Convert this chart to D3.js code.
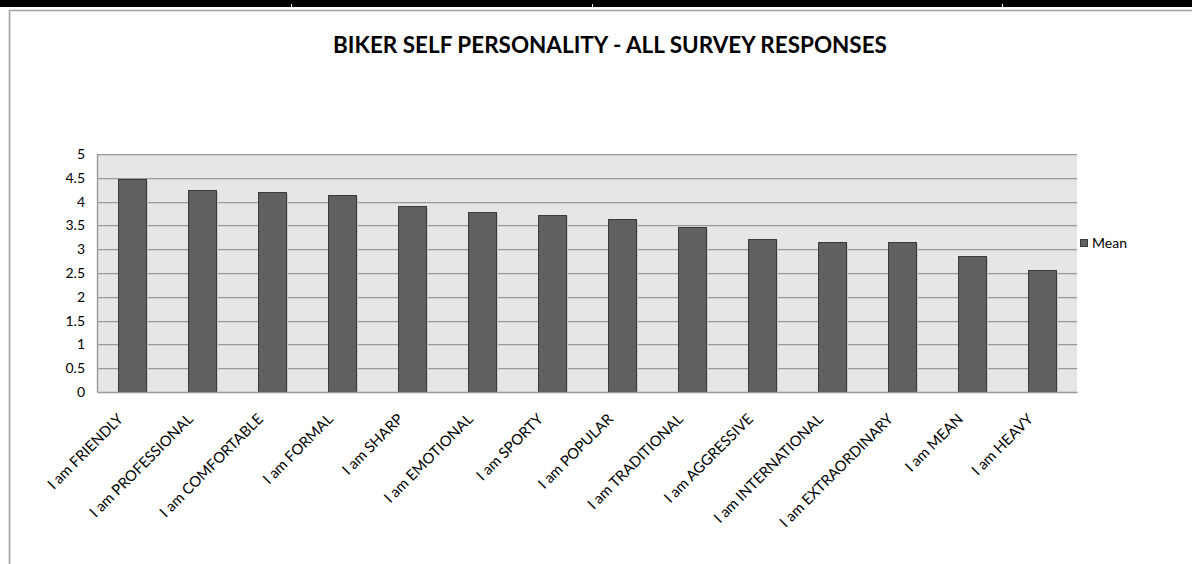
<!DOCTYPE html>
<html>
<head>
<meta charset="utf-8">
<script src="https://cdn.jsdelivr.net/npm/d3@7"></script>
<style>
  html, body { margin: 0; padding: 0; background: #ffffff; }
  svg { display: block; }
  text { font-family: Lato, "Open Sans", "Liberation Sans", sans-serif; fill: #000; }
</style>
</head>
<body>
<svg id="chart" width="1192" height="564"></svg>
<script>
// Mean self-rating per personality statement
const categories = [
  "I am FRIENDLY", "I am PROFESSIONAL", "I am COMFORTABLE", "I am FORMAL",
  "I am SHARP", "I am EMOTIONAL", "I am SPORTY", "I am POPULAR",
  "I am TRADITIONAL", "I am AGGRESSIVE", "I am INTERNATIONAL",
  "I am EXTRAORDINARY", "I am MEAN", "I am HEAVY"
];
const meanValues = [4.47, 4.24, 4.20, 4.14, 3.91, 3.78, 3.72, 3.63, 3.46, 3.21, 3.15, 3.15, 2.85, 2.56];
const yTicks = [0, 0.5, 1, 1.5, 2, 2.5, 3, 3.5, 4, 4.5, 5];
const seriesName = "Mean";
const chartTitle = "BIKER SELF PERSONALITY - ALL SURVEY RESPONSES";

const svg = d3.select("#chart");
const W = 1192, H = 564;
const plot = { left: 97, right: 1077, top: 154, bottom: 392 };

// Sheet strip above the chart object
svg.append("rect").attr("x", 0).attr("y", 0).attr("width", W).attr("height", 7).attr("fill", "#000");
[291, 592, 1002].forEach(x => {
  svg.append("rect").attr("x", x).attr("y", 4).attr("width", 1).attr("height", 3).attr("fill", "#fff");
});

// Chart area frame (continues past the bottom and right edge)
svg.append("path")
  .attr("d", `M9.5,${H + 5} V10.5 H${W + 5}`)
  .attr("fill", "none").attr("stroke", "#a0a0a0").attr("stroke-width", 1.6);

// Title
const title = svg.append("text")
  .attr("x", 610).attr("y", 53)
  .attr("text-anchor", "middle")
  .attr("font-weight", "bold")
  .attr("font-size", 18)
  .text(chartTitle);
{
  const len = title.node().getComputedTextLength();
  title.attr("font-size", 18 * 554 / len);
}

// Scales
const x = d3.scaleBand().domain(categories).range([plot.left, plot.right]).paddingInner(0.6).paddingOuter(0.3);
const y = d3.scaleLinear().domain([0, 5]).range([plot.bottom, plot.top]);

// Plot background
svg.append("rect")
  .attr("x", plot.left).attr("y", plot.top)
  .attr("width", plot.right - plot.left).attr("height", plot.bottom - plot.top)
  .attr("fill", "#e6e6e6");

// Gridlines with a faint shadow underneath
const grid = svg.append("g");
grid.selectAll("line.shadow").data(yTicks.filter(t => t > 0)).join("line")
  .attr("class", "shadow")
  .attr("x1", plot.left).attr("x2", plot.right)
  .attr("y1", d => Math.round(y(d)) + 1.5).attr("y2", d => Math.round(y(d)) + 1.5)
  .attr("stroke", "#d2d2d2").attr("stroke-width", 1);
grid.selectAll("line.major").data(yTicks.filter(t => t > 0)).join("line")
  .attr("class", "major")
  .attr("x1", plot.left).attr("x2", plot.right)
  .attr("y1", d => Math.round(y(d)) + 0.5).attr("y2", d => Math.round(y(d)) + 0.5)
  .attr("stroke", "#999999").attr("stroke-width", 1);

// Bars: soft shadow then the bar itself
const bars = svg.append("g");
bars.selectAll("rect.shadow").data(meanValues).join("rect")
  .attr("class", "shadow")
  .attr("x", (d, i) => Math.round(x(categories[i])) + 2)
  .attr("y", d => Math.round(y(d)) + 2)
  .attr("width", x.bandwidth())
  .attr("height", d => plot.bottom - Math.round(y(d)) - 2)
  .attr("fill", "#c8c8c8");
bars.selectAll("rect.bar").data(meanValues).join("rect")
  .attr("class", "bar")
  .attr("x", (d, i) => Math.round(x(categories[i])) + 0.5)
  .attr("y", d => Math.round(y(d)) + 0.5)
  .attr("width", x.bandwidth())
  .attr("height", d => plot.bottom - Math.round(y(d)) - 0.5)
  .attr("fill", "#606060")
  .attr("stroke", "#3a3a3a").attr("stroke-width", 1);

// Axes
const yAxis = d3.axisLeft(y).tickValues(yTicks).tickSize(0).tickPadding(12)
  .tickFormat(d => String(d));
const gy = svg.append("g").attr("transform", `translate(${plot.left},0)`).call(yAxis);
gy.select(".domain").attr("stroke", "#999999").attr("stroke-width", 1.4);
gy.selectAll("text").attr("font-size", 14).attr("font-family", "Lato, 'Open Sans', sans-serif").attr("fill", "#000");

const xAxis = d3.axisBottom(x).tickSize(0).tickPadding(0);
const gx = svg.append("g").attr("transform", `translate(0,${plot.bottom})`).call(xAxis);
gx.select(".domain").attr("stroke", "#999999").attr("stroke-width", 1.4);
gx.selectAll("text")
  .attr("font-size", 13.5)
  .attr("font-family", "Lato, 'Open Sans', sans-serif")
  .attr("fill", "#000")
  .attr("text-anchor", "end")
  .attr("dy", 0)
  .attr("y", 0)
  .attr("transform", d => `translate(${x.bandwidth() / 2 - 22},${28}) rotate(-45)`);
{
  const probe = gx.selectAll("text").filter(d => d === "I am PROFESSIONAL").node();
  const len = probe.getComputedTextLength();
  gx.selectAll("text").attr("font-size", 13.5 * 139 / len);
}

// Legend
const legend = svg.append("g").attr("transform", "translate(1080,243)");
legend.append("rect").attr("x", 0.5).attr("y", -3.5).attr("width", 7).attr("height", 7)
  .attr("fill", "#606060").attr("stroke", "#3a3a3a").attr("stroke-width", 1);
legend.append("text").attr("x", 12).attr("y", 0).attr("dy", "0.35em")
  .attr("font-size", 14).text(seriesName);
</script>
</body>
</html>
